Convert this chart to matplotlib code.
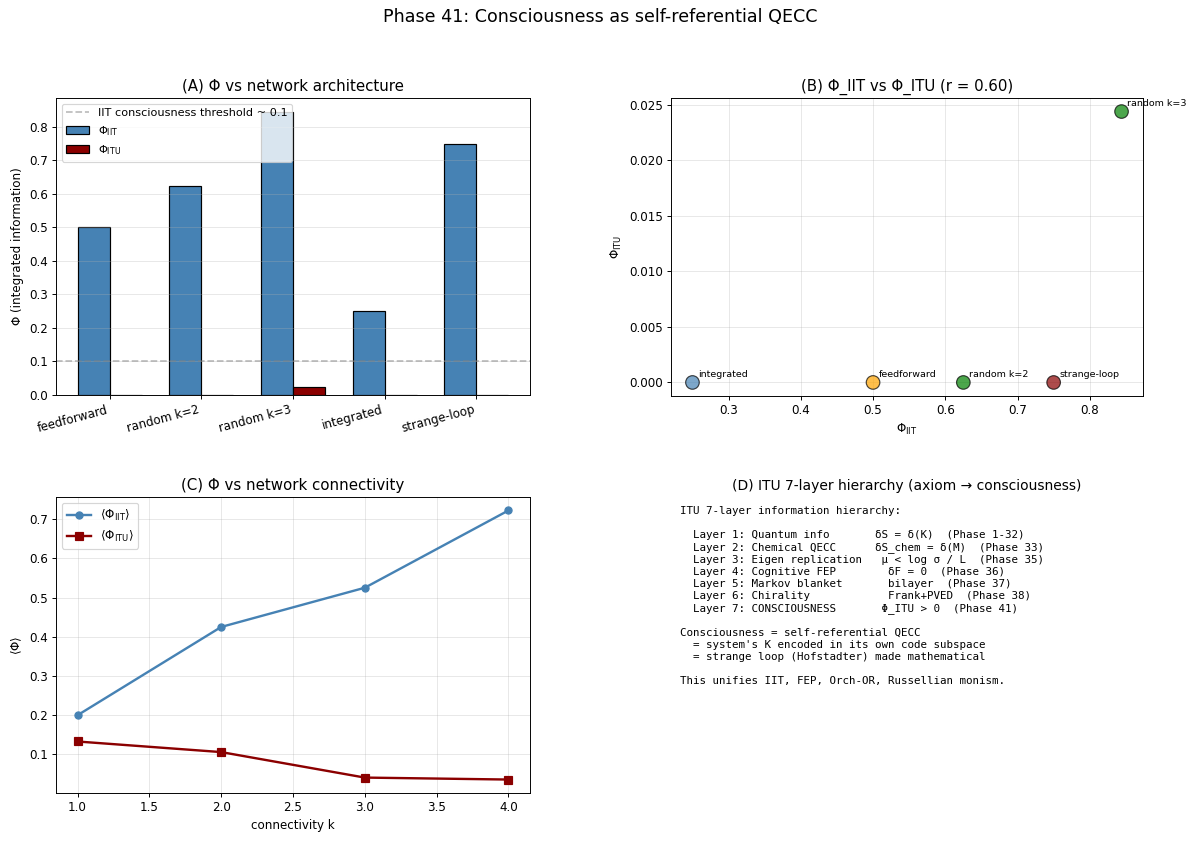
#!/usr/bin/env python3

import numpy as np
import matplotlib
matplotlib.use('Agg')
import matplotlib.pyplot as plt

# Panel A / B data
archNames = ['feedforward', 'random k=2', 'random k=3', 'integrated', 'strange-loop']
phiIIT = [0.5, 0.625, 0.844, 0.25, 0.75]
phiITU = [0.0, 0.0, 0.0244, 0.0, 0.0]
archColors = ['orange', 'green', 'green', 'steelblue', 'darkred']

# Panel C data
connK = [1, 2, 3, 4]
meanIIT = [0.200, 0.425, 0.525, 0.722]
meanITU = [0.133, 0.106, 0.041, 0.036]

hierarchyText = """ITU 7-layer information hierarchy:

  Layer 1: Quantum info       δS = δ(K)  (Phase 1-32)
  Layer 2: Chemical QECC      δS_chem = δ(M)  (Phase 33)
  Layer 3: Eigen replication   μ < log σ / L  (Phase 35)
  Layer 4: Cognitive FEP        δF = 0  (Phase 36)
  Layer 5: Markov blanket       bilayer  (Phase 37)
  Layer 6: Chirality            Frank+PVED  (Phase 38)
  Layer 7: CONSCIOUSNESS       Φ_ITU > 0  (Phase 41)

Consciousness = self-referential QECC
  = system's K encoded in its own code subspace
  = strange loop (Hofstadter) made mathematical

This unifies IIT, FEP, Orch-OR, Russellian monism."""

dpi = 1200 / 14
fig = plt.figure(figsize=(14, 842 / dpi), dpi=dpi)
fig.suptitle('Phase 41: Consciousness as self-referential QECC', fontsize=14.7, y=0.99)

W, H = 1200.0, 842.0
def box(l, t, r, b):
    return [l / W, 1 - b / H, (r - l) / W, (b - t) / H]

axA = fig.add_axes(box(56, 98, 530, 395))
axB = fig.add_axes(box(671, 98, 1143, 396))
axC = fig.add_axes(box(56, 497, 530, 793))
axD = fig.add_axes(box(671, 497, 1143, 793))

titleSize = 12.6

# (A) bars
x = np.arange(len(archNames))
w = 0.35
axA.bar(x - w / 2, phiIIT, w, color='steelblue', edgecolor='black', label=r'$\Phi_{\mathrm{IIT}}$')
axA.bar(x + w / 2, phiITU, w, color='darkred', edgecolor='black', label=r'$\Phi_{\mathrm{ITU}}$')
axA.axhline(0.1, color='gray', ls='--', alpha=0.5, label='IIT consciousness threshold ~ 0.1')
axA.set_xticks(x)
axA.set_xticklabels(archNames, rotation=15, ha='right')
axA.set_ylabel('Φ (integrated information)')
axA.set_title('(A) Φ vs network architecture', fontsize=titleSize)
axA.legend(loc='upper left', fontsize=9.5)
axA.grid(alpha=0.3, axis='y')

# (B) scatter
axB.scatter(phiIIT, phiITU, s=130, c=archColors, alpha=0.7, edgecolors='black', zorder=3)
for name, xi, yi in zip(archNames, phiIIT, phiITU):
    axB.annotate(name, (xi, yi), xytext=(5, 5), textcoords='offset points', fontsize=8)
axB.set_xlabel(r'$\Phi_{\mathrm{IIT}}$')
axB.set_ylabel(r'$\Phi_{\mathrm{ITU}}$')
axB.set_title('(B) Φ_IIT vs Φ_ITU (r = 0.60)', fontsize=titleSize)
axB.grid(alpha=0.3)

# (C) connectivity
axC.plot(connK, meanIIT, 'o-', color='steelblue', lw=2, label=r'$\langle\Phi_{\mathrm{IIT}}\rangle$')
axC.plot(connK, meanITU, 's-', color='darkred', lw=2, label=r'$\langle\Phi_{\mathrm{ITU}}\rangle$')
axC.set_xlabel('connectivity k')
axC.set_ylabel(r'$\langle\Phi\rangle$')
axC.set_title('(C) Φ vs network connectivity', fontsize=titleSize)
axC.legend(loc='upper left')
axC.grid(alpha=0.3)

# (D) text
axD.axis('off')
axD.set_title('(D) ITU 7-layer hierarchy (axiom → consciousness)', fontsize=11.7)
axD.text(0.02, 0.97, hierarchyText, transform=axD.transAxes, fontsize=9.2,
         family='monospace', va='top', linespacing=1.25)

fig.savefig('out.png', dpi=dpi)
